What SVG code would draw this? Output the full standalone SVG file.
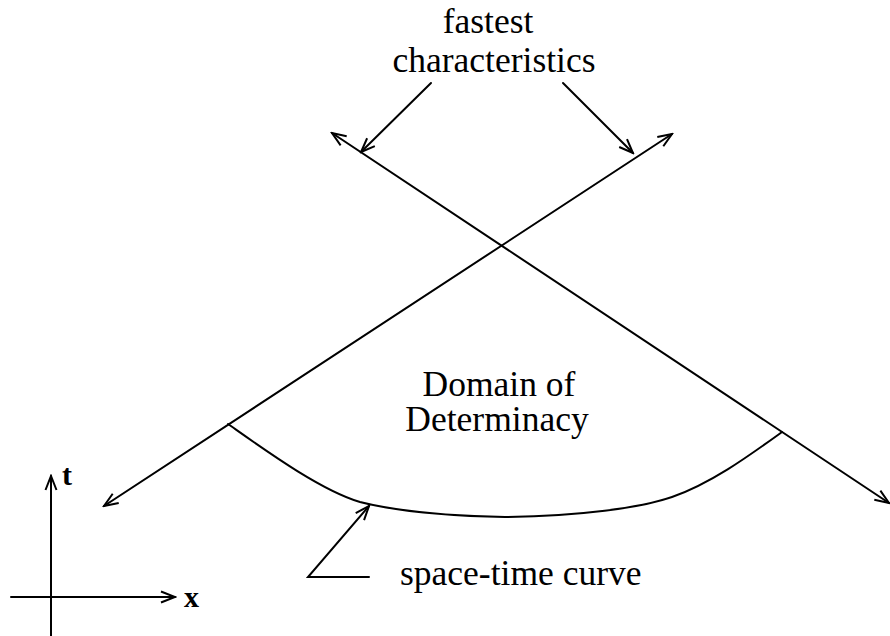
<svg xmlns="http://www.w3.org/2000/svg" width="890" height="636" viewBox="0 0 890 636">
<style>
.ln{fill:none;stroke:#000;stroke-width:2;stroke-linecap:round}
.tx{font-family:"Liberation Serif","Times New Roman",serif;font-size:35.5px;fill:#000}
.ax{font-family:"Liberation Serif","Times New Roman",serif;font-size:30px;font-weight:bold;fill:#000}
</style>
<defs>
<marker id="ah" viewBox="-16 -7 18 14" markerWidth="18" markerHeight="14" refX="0" refY="0" markerUnits="userSpaceOnUse" orient="auto-start-reverse">
<path d="M-14,-5.5 L0,0 L-14,5.5" fill="none" stroke="#000" stroke-width="2"/>
</marker>
</defs>
<g id="connectors">
<line id="charA" class="ln" x1="104" y1="506" x2="672" y2="134" marker-start="url(#ah)" marker-end="url(#ah)"/>
<line id="charB" class="ln" x1="332" y1="133" x2="889" y2="503" marker-start="url(#ah)" marker-end="url(#ah)"/>
<line id="ptrL" class="ln" x1="431" y1="83" x2="361" y2="152" marker-end="url(#ah)"/>
<line id="ptrR" class="ln" x1="563" y1="83" x2="633" y2="153" marker-end="url(#ah)"/>
<path id="curvePtr" class="ln" d="M369,577 L308,577 L369,506" marker-end="url(#ah)"/>
<line id="tAxis" class="ln" x1="51" y1="636" x2="51" y2="476" marker-end="url(#ah)"/>
<line id="xAxis" class="ln" x1="11" y1="597" x2="175" y2="597" marker-end="url(#ah)"/>
</g>
<g id="spaceTimeCurve">
<path class="ln" d="M228,424 C265,450 320,490 360,502 C400,512 450,516 505,517 C580,516 640,508 672,497 C712,483 750,455 782,432"/>
</g>
<g id="labelFastest">
<text class="tx" x="488" y="33" text-anchor="middle">fastest</text>
<text class="tx" x="494" y="72" text-anchor="middle">characteristics</text>
</g>
<g id="labelDomain">
<text class="tx" x="499" y="396" text-anchor="middle">Domain of</text>
<text class="tx" x="497" y="431" text-anchor="middle">Determinacy</text>
</g>
<g id="labelCurve">
<text class="tx" x="400" y="585">space-time curve</text>
</g>
<g id="axisLabels">
<text class="ax" x="62" y="485">t</text>
<text class="ax" x="184" y="607">x</text>
</g>
</svg>
